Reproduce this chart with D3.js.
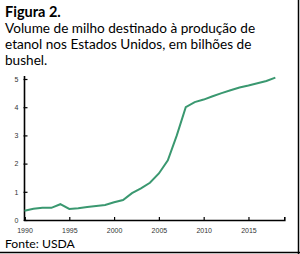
<!DOCTYPE html>
<html>
<head>
<meta charset="utf-8">
<script src="https://cdn.jsdelivr.net/npm/d3@7"></script>
<style>
  body { margin:0; background:#fff; }
  svg { display:block; }
</style>
</head>
<body>
<svg id="chart" width="300" height="254"></svg>
<script>
var years = [1990,1991,1992,1993,1994,1995,1996,1997,1998,1999,2000,2001,2002,2003,2004,
             2005,2006,2007,2008,2009,2010,2011,2012,2013,2014,2015,2016,2017,2018];
var volume = [0.33,0.40,0.43,0.43,0.56,0.39,0.42,0.46,0.50,0.53,0.63,0.71,0.95,1.12,1.32,
              1.65,2.12,3.0,4.0,4.18,4.27,4.39,4.5,4.6,4.7,4.77,4.85,4.93,5.05];
var yTicks = [0,1,2,3,4,5];
var xTicks = [1990,1995,2000,2005,2010,2015];
var titleLines = ['Volume de milho destinado à produção de','etanol nos Estados Unidos, em bilhões de','bushel.'];

var svg = d3.select('#chart');

var x = d3.scaleLinear().domain([1990,2019]).range([24.5,284.3]);
var y = d3.scaleLinear().domain([0,5]).range([220,79]);

// heading
svg.append('text')
    .attr('x',5).attr('y',16.5)
    .style('font-family','Lato').style('font-weight','bold').style('font-size','14.5px')
    .text('Figura 2.');
svg.selectAll('.tline')
    .data(titleLines)
    .join('text')
    .attr('class','tline')
    .attr('x',5)
    .attr('y',(d,i) => 33 + i*16)
    .style('font-family','Lato').style('font-size','13.6px')
    .text(d => d);

// axes
var xAxis = d3.axisBottom(x).tickValues(xTicks).tickSize(-3).tickFormat(d3.format('d'));
var gx = svg.append('g').attr('transform','translate(0,'+y(0)+')').call(xAxis);
gx.select('.domain').attr('stroke','#000').attr('stroke-width',1.6);
gx.selectAll('.tick line').attr('stroke','#000').attr('stroke-width',1.2);
gx.selectAll('.tick text').attr('y',8)
    .style('font-family','Liberation Sans Narrow, Liberation Sans').style('font-size','7px').attr('fill','#333');

var yAxis = d3.axisLeft(y).tickValues(yTicks).tickSize(-3).tickFormat(d3.format('d'));
var gy = svg.append('g').attr('transform','translate('+x(1990)+',0)').call(yAxis);
gy.select('.domain').attr('stroke','#000').attr('stroke-width',1.6).attr('d','M0,'+(y(0))+'V'+(y(5)-3));
gy.selectAll('.tick line').attr('stroke','#000').attr('stroke-width',1.2).attr('x1',-1);
gy.selectAll('.tick text').attr('x',-6)
    .style('font-family','Liberation Sans Narrow, Liberation Sans').style('font-size','7px').attr('fill','#333');

// series
var line = d3.line().x((d,i) => x(years[i])).y(d => y(d));
svg.append('path')
    .datum(volume)
    .attr('d',line)
    .attr('fill','none')
    .attr('stroke','#3a9870')
    .attr('stroke-width',2);

// source
svg.append('text')
    .attr('x',5).attr('y',248)
    .style('font-family','Lato').style('font-size','12.2px')
    .text('Fonte: USDA');

// frame on right and bottom
svg.append('line').attr('x1',298.5).attr('x2',298.5).attr('y1',0).attr('y2',254).attr('stroke','#000').attr('stroke-width',1.5);
svg.append('line').attr('x1',0).attr('x2',300).attr('y1',252.5).attr('y2',252.5).attr('stroke','#000').attr('stroke-width',1.5);
</script>
</body>
</html>
